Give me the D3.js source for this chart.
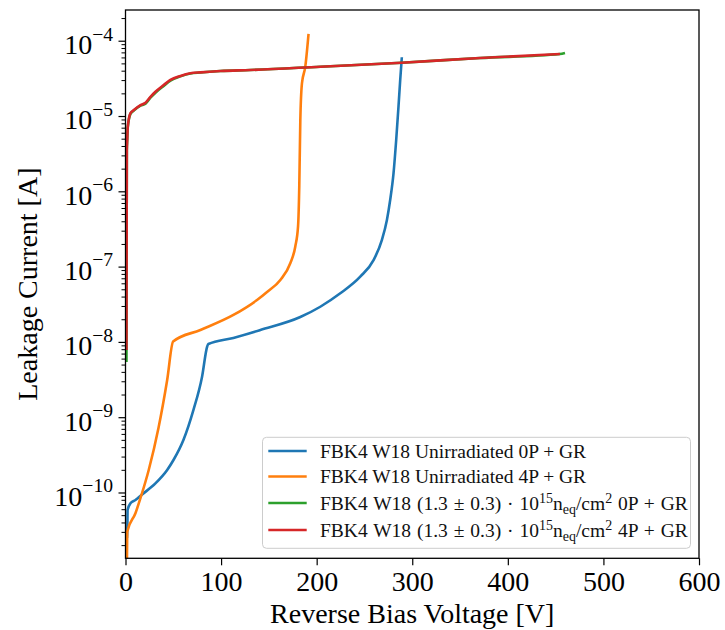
<!DOCTYPE html>
<html>
<head>
<meta charset="utf-8">
<script src="https://cdn.jsdelivr.net/npm/d3@7"></script>
<style>
  body { margin: 0; background: #fff; }
  svg text { font-family: "Liberation Serif", "Times New Roman", serif; }
</style>
</head>
<body>
<script>
// data (voltage in V, current in A)
var unirr0P_V = [1.5, 2.0, 2.2, 5.2, 10.4, 16.7, 31.3, 43.6, 50.2, 60.6, 71.1, 80.1, 85.4, 86.7, 112.9, 141.1, 182.9, 203.8, 224.7, 245.6, 259.5, 268.2, 273.5, 276.9, 280.4, 283.2, 285.6, 287.4, 289.1];
var unirr0P_I = [2.5e-11, 3.9e-11, 5.85e-11, 7.18e-11, 7.94e-11, 9.27e-11, 1.32e-10, 1.99e-10, 2.70e-10, 4.98e-10, 1.25e-9, 3.45e-9, 8.63e-9, 9.38e-9, 1.13e-8, 1.44e-8, 2.14e-8, 2.93e-8, 4.42e-8, 7.35e-8, 1.22e-7, 2.25e-7, 4.16e-7, 7.66e-7, 1.73e-6, 4.80e-6, 1.33e-5, 3.01e-5, 6.03e-5];

var unirr4P_V = [1.3, 1.8, 10.4, 16.7, 24.3, 34.5, 43.6, 49.8, 78.4, 112.9, 137.6, 148.1, 162.0, 172.4, 177.6, 180.5, 181.8, 182.9, 184.6, 188.1, 191.5];
var unirr4P_I = [6.3e-12, 3.01e-11, 5.30e-11, 9.27e-11, 1.99e-10, 7.19e-10, 3.12e-9, 1.01e-8, 1.44e-8, 2.28e-8, 3.60e-8, 4.60e-8, 6.64e-8, 1.11e-7, 1.84e-7, 3.39e-7, 1.15e-6, 8.85e-6, 2.72e-5, 4.52e-5, 1.23e-4];

var irr0P_V = [1.0, 1.4, 1.8, 2.4, 5.2, 8.7, 15.7, 20.9, 26.1, 31.3, 40.0, 47.0, 57.5, 67.9, 78.4, 99.3, 130.6, 203.8, 289.1, 371, 454.5, 459.8];
var irr0P_I = [5.4e-9, 3.5e-6, 4.8e-6, 7.1e-6, 1.07e-5, 1.18e-5, 1.37e-5, 1.46e-5, 1.75e-5, 2.04e-5, 2.51e-5, 2.95e-5, 3.36e-5, 3.67e-5, 3.79e-5, 3.96e-5, 4.08e-5, 4.52e-5, 5.11e-5, 5.89e-5, 6.65e-5, 6.87e-5];

var irr4P_V = [1.0, 1.4, 1.8, 2.4, 5.2, 8.7, 15.7, 20.9, 26.1, 31.3, 40.0, 47.0, 57.5, 67.9, 78.4, 99.3, 130.6, 203.8, 289.1, 371, 454.5];
var irr4P_I = [7.8e-9, 3.53e-6, 4.81e-6, 7.21e-6, 1.09e-5, 1.20e-5, 1.40e-5, 1.50e-5, 1.80e-5, 2.10e-5, 2.58e-5, 3.01e-5, 3.40e-5, 3.69e-5, 3.80e-5, 3.96e-5, 4.08e-5, 4.52e-5, 5.11e-5, 5.89e-5, 6.65e-5];

var legendLabels = [
    "FBK4 W18 Unirradiated 0P + GR",
    "FBK4 W18 Unirradiated 4P + GR",
    "FBK4 W18 (1.3 ± 0.3) · 10^{15}n_{eq}/cm^{2} 0P + GR",
    "FBK4 W18 (1.3 ± 0.3) · 10^{15}n_{eq}/cm^{2} 4P + GR"
];
var colors = ["#1f77b4", "#ff7f0e", "#2ca02c", "#d62728"];

var xTicks = [0, 100, 200, 300, 400, 500, 600];
var yExponents = [-10, -9, -8, -7, -6, -5, -4];

var series = [
    {V: unirr0P_V, I: unirr0P_I},
    {V: unirr4P_V, I: unirr4P_I},
    {V: irr0P_V, I: irr0P_I},
    {V: irr4P_V, I: irr4P_I}
].map((s, i) => ({color: colors[i], label: legendLabels[i], pts: s.V.map((v, j) => [v, s.I[j]])}));

var width = 725, height = 630;
var margin = {top: 10, right: 26, bottom: 71.7, left: 125.5};

var x = d3.scaleLinear()
    .domain([0, 600])
    .range([margin.left, width - margin.right]);

var y = d3.scaleLog()
    .domain([Math.pow(10, -10.874), Math.pow(10, -3.592)])
    .range([height - margin.bottom, margin.top]);

var svg = d3.select("body").append("svg")
    .attr("width", width)
    .attr("height", height);

svg.append("clipPath").attr("id", "plotclip")
    .append("rect")
    .attr("x", x(0)).attr("y", margin.top)
    .attr("width", x(600) - x(0))
    .attr("height", y.range()[0] - margin.top);

//lines
var line = d3.line()
    .curve(d3.curveMonotoneX)
    .x(d => x(d[0]))
    .y(d => y(d[1]));

svg.append("g")
    .attr("clip-path", "url(#plotclip)")
  .selectAll("path").data(series).enter().append("path")
    .attr("d", d => line(d.pts))
    .attr("fill", "none")
    .attr("stroke", d => d.color)
    .attr("stroke-width", 2.6)
    .attr("stroke-linejoin", "round")
    .attr("stroke-linecap", "butt");

//x axis
var xAxis = svg.append("g")
    .attr("transform", `translate(0,${y.range()[0]})`)
    .call(d3.axisBottom(x).tickValues(xTicks).tickSize(7).tickPadding(5).tickSizeOuter(0));
xAxis.select(".domain").remove();
xAxis.selectAll("line").attr("stroke-width", 1.2);
xAxis.selectAll("text")
    .attr("font-family", "Liberation Serif, serif")
    .attr("font-size", 28)
    .attr("fill", "#000")
    .attr("dy", null)
    .attr("y", 33);

//y axis minor ticks
var minorTicks = [];
d3.range(-11, -3).forEach(e => {
    for (var m = 2; m <= 9; m++) minorTicks.push(m * Math.pow(10, e));
});
minorTicks = minorTicks.filter(v => v >= y.domain()[0] && v <= y.domain()[1]);

var yMinor = svg.append("g")
    .attr("transform", `translate(${margin.left},0)`)
    .call(d3.axisLeft(y).tickValues(minorTicks).tickSize(4).tickFormat(""));
yMinor.select(".domain").remove();
yMinor.selectAll("line").attr("stroke-width", 1);

//y axis major ticks
var yAxis = svg.append("g")
    .attr("transform", `translate(${margin.left},0)`)
    .call(d3.axisLeft(y).tickValues(yExponents.map(e => Math.pow(10, e))).tickSize(7).tickFormat(""));
yAxis.select(".domain").remove();
yAxis.selectAll("line").attr("stroke-width", 1.2);

yAxis.selectAll(".tick").each(function(d) {
    var e = Math.round(Math.log10(d));
    var t = d3.select(this).append("text")
        .attr("x", -12.5)
        .attr("y", 12.8)
        .attr("text-anchor", "end")
        .attr("fill", "#000")
        .attr("font-family", "Liberation Serif, serif")
        .attr("font-size", 28);
    t.append("tspan").text("10");
    t.append("tspan").attr("dy", -13.5).attr("font-size", 19.6).text("\u2212" + Math.abs(e));
});

//frame
svg.append("rect")
    .attr("x", x(0)).attr("y", margin.top)
    .attr("width", x(600) - x(0))
    .attr("height", y.range()[0] - margin.top)
    .attr("fill", "none")
    .attr("stroke", "#000")
    .attr("stroke-width", 1.3);

//axis titles
svg.append("text")
    .attr("x", (x(0) + x(600)) / 2)
    .attr("y", 623)
    .attr("text-anchor", "middle")
    .attr("font-size", 28)
    .text("Reverse Bias Voltage [V]");

svg.append("text")
    .attr("transform", `translate(37,${(margin.top + y.range()[0]) / 2}) rotate(-90)`)
    .attr("text-anchor", "middle")
    .attr("font-size", 28)
    .text("Leakage Current [A]");

//legend
var legend = svg.append("g");
legend.append("rect")
    .attr("x", 262.5).attr("y", 437.3)
    .attr("width", 428).attr("height", 111)
    .attr("rx", 4)
    .attr("fill", "#fff").attr("fill-opacity", 0.8)
    .attr("stroke", "#cccccc").attr("stroke-width", 1);

var rowY = [451, 476.5, 503, 530];

function mathText(sel, str) {
    var re = /\^\{([^}]*)\}|_\{([^}]*)\}|[^^_]+/g, m, off = 0;
    while ((m = re.exec(str)) !== null) {
        var ts = sel.append("tspan");
        var target = 0, txt = m[0], fs = null;
        if (m[1] !== undefined) { target = -7; txt = m[1]; fs = 14; }
        else if (m[2] !== undefined) { target = 4; txt = m[2]; fs = 14; }
        ts.attr("dy", target - off).text(txt);
        if (fs) ts.attr("font-size", fs);
        off = target;
    }
}

series.forEach((s, i) => {
    legend.append("line")
        .attr("x1", 268.3).attr("x2", 306.7)
        .attr("y1", rowY[i]).attr("y2", rowY[i])
        .attr("stroke", s.color).attr("stroke-width", 2.6);
    var t = legend.append("text")
        .attr("x", 320).attr("y", rowY[i] + 6.5)
        .attr("font-size", 19.5)
        .attr("word-spacing", i > 1 ? 1 : 0)
        .attr("fill", "#111");
    mathText(t, s.label);
});
</script>
</body>
</html>
